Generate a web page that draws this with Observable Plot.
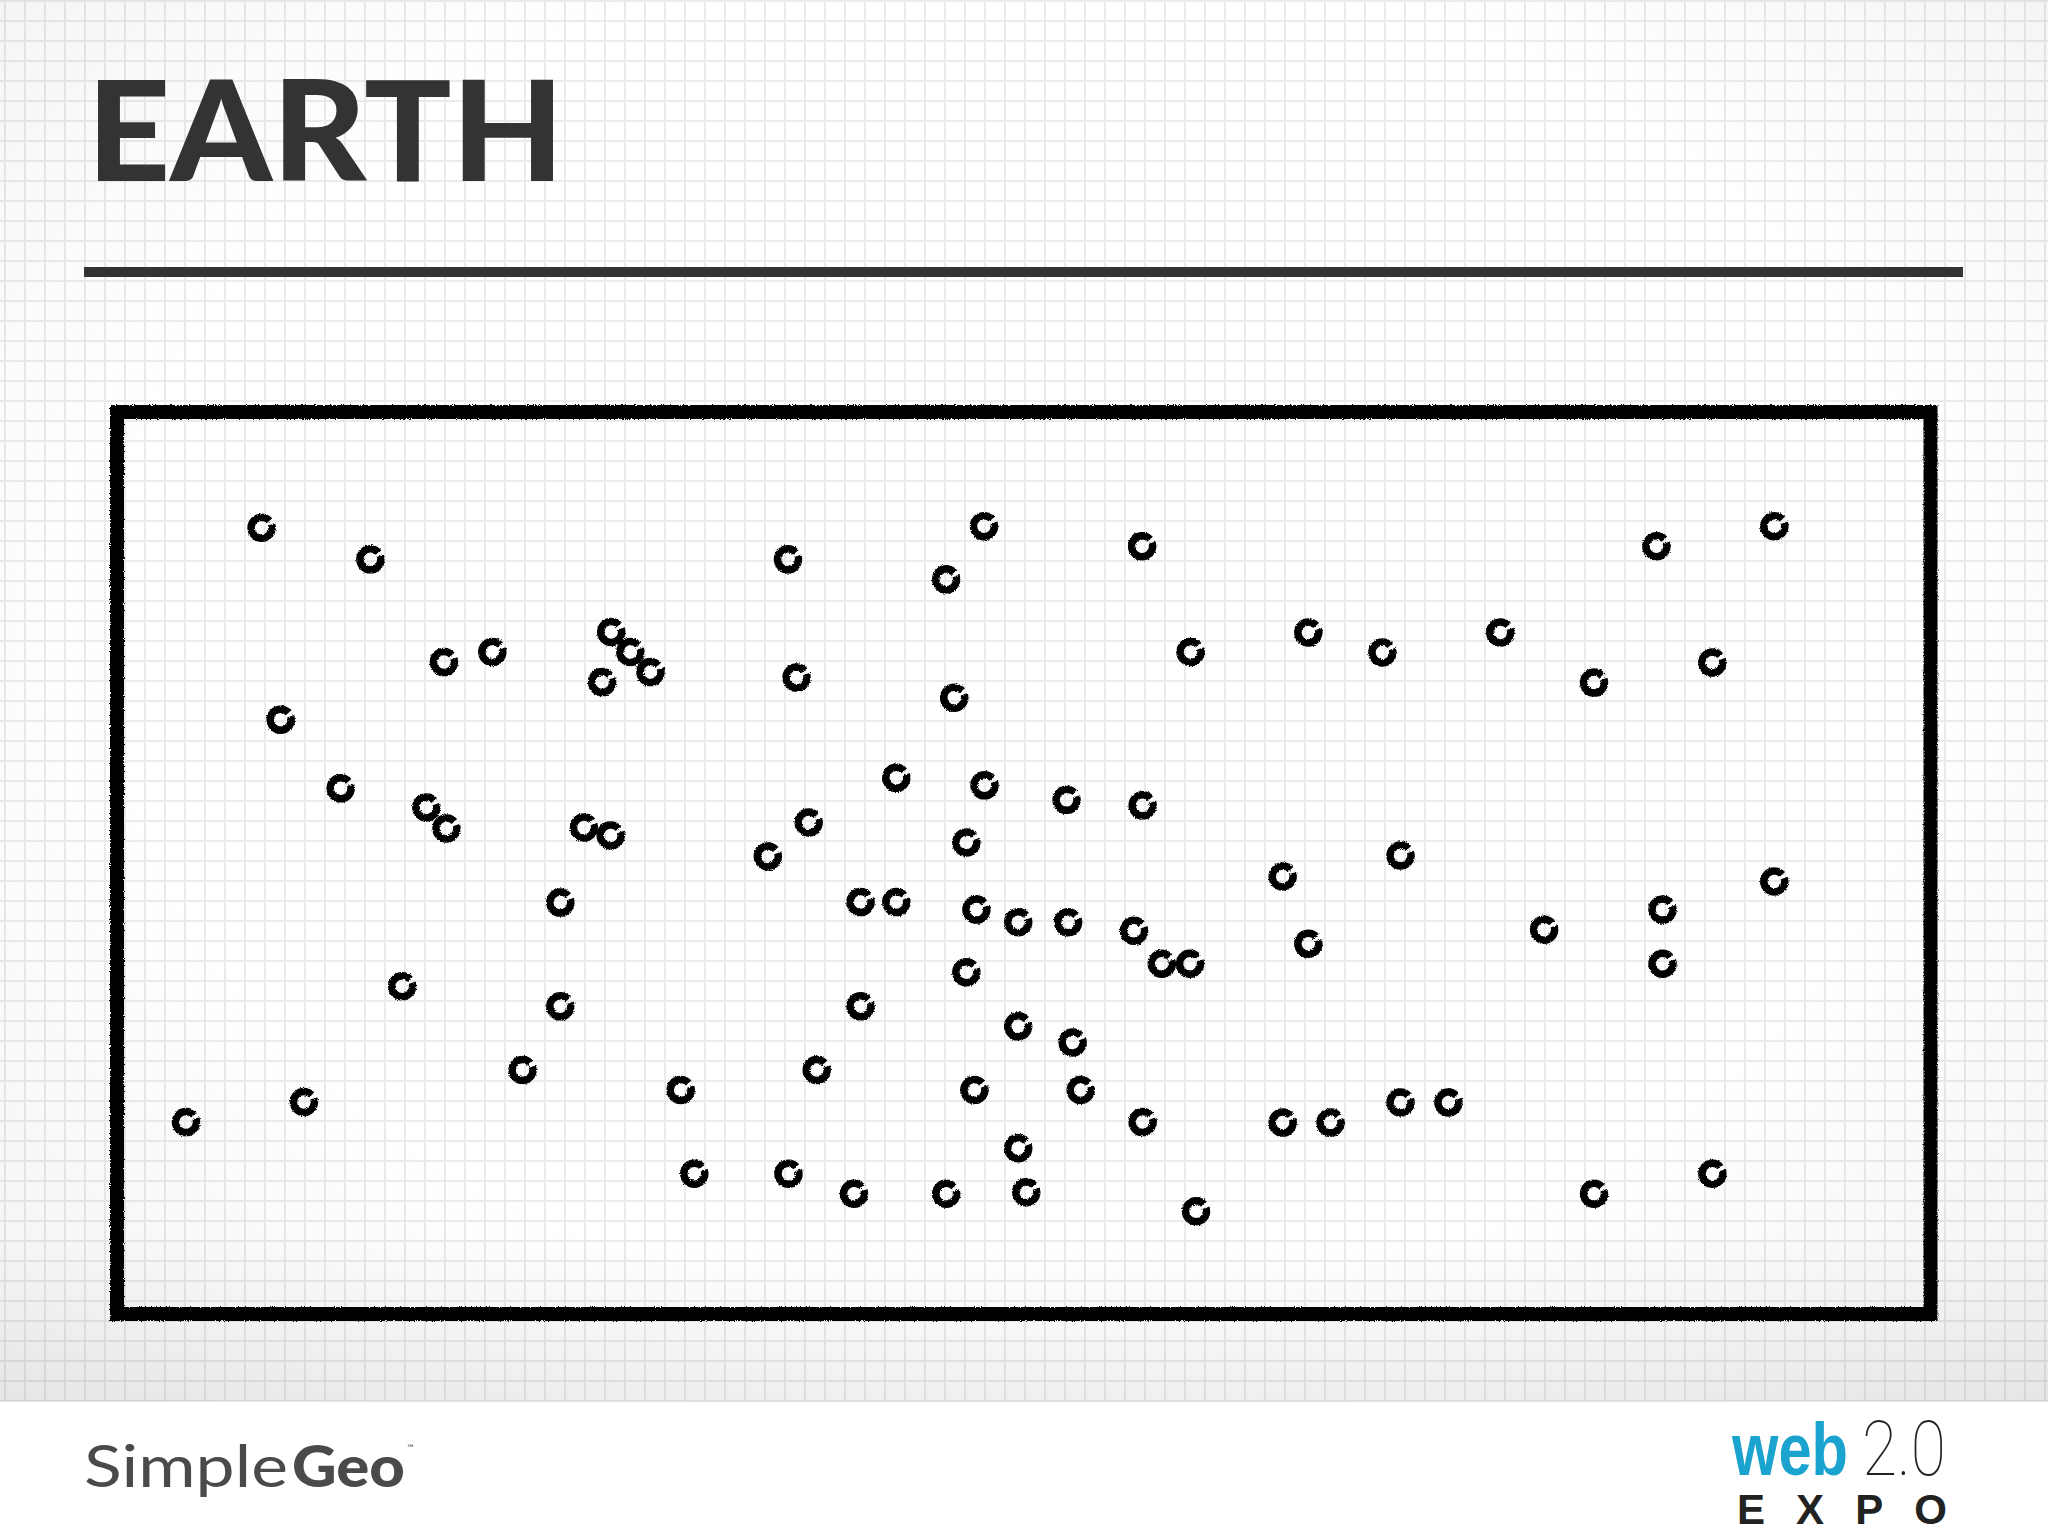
<!DOCTYPE html>
<html>
<head>
<meta charset="utf-8">
<script src="https://cdn.jsdelivr.net/npm/d3@7"></script>
<script src="https://cdn.jsdelivr.net/npm/@observablehq/plot@0.6"></script>
<style>
  html, body { margin: 0; padding: 0; }
  body { width: 2048px; height: 1536px; position: relative; overflow: hidden; background: #fff; font-family: Lato, "Open Sans", sans-serif; }
  #paper {
    position: absolute; left: 0; top: 0; width: 2048px; height: 1401px;
    background-color: #fff;
    background-image:
      linear-gradient(to right, #ebebeb 2px, transparent 2px),
      linear-gradient(to bottom, #ebebeb 2px, transparent 2px);
    background-size: 20px 20px;
    background-position: 4px 0px;
  }
  #shade {
    position: absolute; left: 0; top: 0; width: 2048px; height: 1401px;
    background:
      linear-gradient(to bottom, rgba(0,0,0,0) 88%, rgba(0,0,0,0.05) 100%),
      radial-gradient(ellipse at 50% 45%, rgba(0,0,0,0) 62%, rgba(0,0,0,0.05) 100%);
    border-bottom: 1px solid #e2e2e2;
  }
  #header { position: absolute; left: 0; top: 0; }
  #chart { position: absolute; left: 0; top: 380px; }
  #footer { position: absolute; left: 0; top: 1401px; }
</style>
</head>
<body>
<div id="paper"></div>
<div id="shade"></div>

<svg id="header" width="2048" height="380">
  <text x="87" y="181" font-family="Lato, 'Open Sans', sans-serif" font-weight="900" font-size="139" fill="#333" textLength="477" lengthAdjust="spacingAndGlyphs">EARTH</text>
  <rect x="84" y="267" width="1879" height="10" fill="#333"></rect>
</svg>

<div id="chart"></div>

<svg id="footer" width="2048" height="135">
  <text x="84" y="86" font-family="Lato, sans-serif" font-weight="400" font-size="58" fill="#4a4a4a" textLength="204" lengthAdjust="spacingAndGlyphs">Simple</text>
  <text x="292" y="86" font-family="Lato, sans-serif" font-weight="900" font-size="58" fill="#4a4a4a" textLength="113" lengthAdjust="spacingAndGlyphs">Geo</text>
  <text x="407" y="50" font-family="Lato, sans-serif" font-size="9" fill="#4a4a4a">™</text>
  <g transform="translate(1732,74) scale(1,1.24)">
    <text x="0" y="0" font-family="'Liberation Sans', Arial, sans-serif" font-weight="700" font-size="60" fill="#1ba3cf" textLength="116" lengthAdjust="spacingAndGlyphs">web</text>
  </g>
  <g transform="translate(1862,74) scale(1,1.24)">
    <text x="0" y="0" font-family="Roboto, sans-serif" font-weight="100" font-size="62" fill="#222" textLength="84" lengthAdjust="spacingAndGlyphs">2.0</text>
  </g>
  <text x="1737" y="123" font-family="'Liberation Sans', Arial, sans-serif" font-weight="700" font-size="42" fill="#222" textLength="210" lengthAdjust="spacing">EXPO</text>
</svg>

<script>
// Point locations (longitude, latitude)
const lon = [
  -151.3, -129.7, -46.8, -7.9, -15.4, 23.5, 125.6, 149.0,
  -81.9, -78.1, -74.1, -83.7, -105.5, -115.1, -147.5, -135.6, -118.6, -114.6, -87.3, -82.0,
  -45.1, 33.1, -13.8, -25.3, -7.8, 8.5, 23.6, -42.7, -11.4, -50.8,
  -92.0, -123.4, -92.0, -99.5, -68.1, -142.9, -166.3, -65.4,
  -32.4, -25.3, -9.4, -1.1, 8.8, 21.9, 27.4, 33.0, -11.4, -32.4, -1.1, 9.7, -41.1, -9.8, 11.3, 23.6, -1.1, -46.7, -33.7, -15.4, 0.5, 34.2,
  56.5, 71.2, 94.6, 113.2, 136.7, 74.8, 51.4, 149.0, 126.8, 103.3, 56.5, 126.8, 74.8, 84.3, 51.4, 60.9, 136.7, 113.2
];
const lat = [
  66.9, 60.6, 60.6, 67.2, 56.6, 63.2, 63.2, 67.2,
  46.1, 42.1, 38.1, 36.1, 42.1, 40.1, 28.6, 14.9, 11.1, 6.9, 7.1, 5.5,
  37.0, 42.1, 33.0, 17.0, 15.5, 12.6, 11.5, 8.1, 4.1, 1.3,
  -7.9, -24.6, -28.6, -41.3, -45.3, -47.7, -51.7, -62.0,
  -7.8, -7.8, -9.3, -11.8, -11.8, -13.5, -20.1, -20.1, -21.8, -28.6, -32.6, -35.8, -41.3, -45.3, -45.3, -51.7, -56.9, -62.0, -66.0, -66.0, -65.7, -69.5,
  46.0, 42.0, 46.0, 36.0, 40.0, 1.5, -2.7, -3.7, -9.3, -13.3, -16.1, -20.1, -47.8, -47.8, -51.8, -51.8, -62.0, -66.0
];
const lonDomain = [-180, 180];
const latDomain = [-90, 90];

const points = lon.map((x, i) => ({lon: x, lat: lat[i]}));

const plot = Plot.plot({
  width: 2048,
  height: 960,
  marginLeft: 116.5,
  marginRight: 118,
  marginTop: 31.5,
  marginBottom: 26.5,
  x: {domain: lonDomain, axis: null},
  y: {domain: latDomain, axis: null},
  style: {background: "transparent", overflow: "visible"},
  marks: [
    Plot.frame({stroke: "#000", strokeWidth: 14}),
    Plot.dot(points, {x: "lon", y: "lat", r: 10.5, stroke: "#000", strokeWidth: 7.5, fill: "none", strokeDasharray: "62 4", strokeDashoffset: 4})
  ]
});

// chalky texture
const svg = d3.select(plot);
const defs = svg.insert("defs", ":first-child");
const f = defs.append("filter").attr("id", "chalk")
  .attr("x", "-10%").attr("y", "-10%").attr("width", "120%").attr("height", "120%");
f.append("feTurbulence").attr("type", "fractalNoise").attr("baseFrequency", "0.8").attr("numOctaves", 2).attr("result", "noise");
f.append("feDisplacementMap").attr("in", "SourceGraphic").attr("in2", "noise").attr("scale", 3)
  .attr("xChannelSelector", "R").attr("yChannelSelector", "G");
svg.selectAll("[aria-label=frame], [aria-label=dot]").attr("filter", "url(#chalk)");

document.getElementById("chart").appendChild(plot);
</script>
</body>
</html>
